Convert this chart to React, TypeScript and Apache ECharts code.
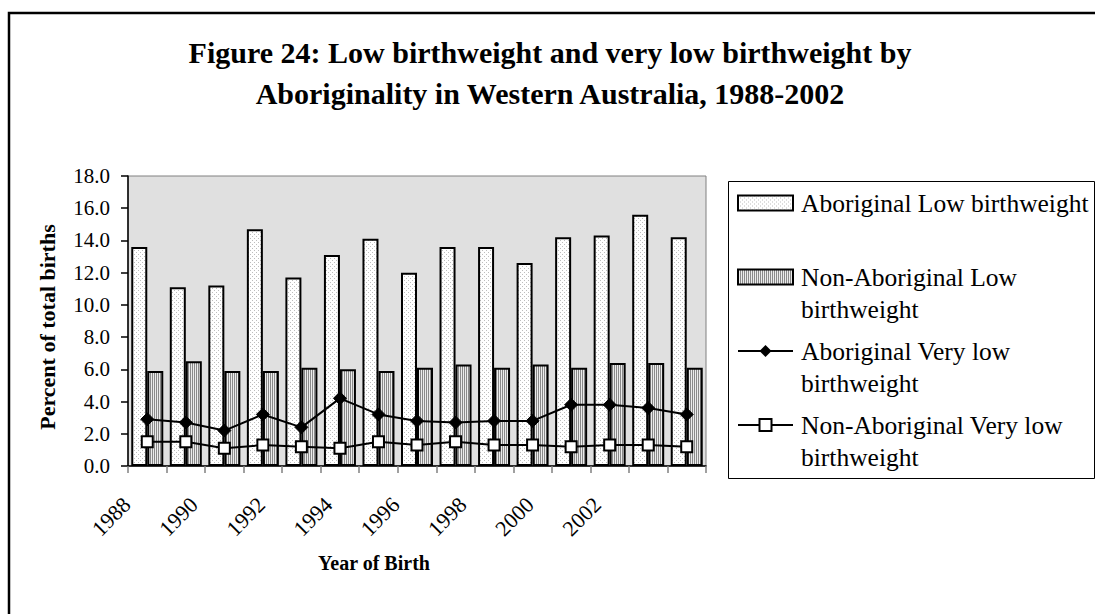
import React, { useEffect, useRef } from "react";
import * as echarts from "echarts";

const years = ["1988", "1989", "1990", "1991", "1992", "1993", "1994", "1995", "1996", "1997", "1998", "1999", "2000", "2001", "2002"];
const aboriginalLow = [13.6, 11.1, 11.2, 14.7, 11.7, 13.1, 14.1, 12.0, 13.6, 13.6, 12.6, 14.2, 14.3, 15.6, 14.2];
const nonAboriginalLow = [5.9, 6.5, 5.9, 5.9, 6.1, 6.0, 5.9, 6.1, 6.3, 6.1, 6.3, 6.1, 6.4, 6.4, 6.1];
const aboriginalVeryLow = [2.9, 2.7, 2.2, 3.2, 2.4, 4.2, 3.2, 2.8, 2.7, 2.8, 2.8, 3.8, 3.8, 3.6, 3.2];
const nonAboriginalVeryLow = [1.5, 1.5, 1.1, 1.3, 1.2, 1.1, 1.5, 1.3, 1.5, 1.3, 1.3, 1.2, 1.3, 1.3, 1.2];

const seriesNames = [
  "Aboriginal Low birthweight",
  "Non-Aboriginal Low birthweight",
  "Aboriginal Very low birthweight",
  "Non-Aboriginal Very low birthweight",
];
const legendLines = [
  ["Aboriginal Low birthweight", ""],
  ["Non-Aboriginal Low", "birthweight"],
  ["Aboriginal Very low", "birthweight"],
  ["Non-Aboriginal Very low", "birthweight"],
];
const titleText = "Figure 24: Low birthweight and very low birthweight by\nAboriginality in Western Australia, 1988-2002";
const yAxisName = "Percent of total births";
const xAxisName = "Year of Birth";

const FONT = "'Liberation Serif', 'Times New Roman', serif";

function makeDots(): HTMLCanvasElement {
  const c = document.createElement("canvas");
  c.width = 4;
  c.height = 4;
  const g = c.getContext("2d")!;
  g.fillStyle = "#ffffff";
  g.fillRect(0, 0, 4, 4);
  g.fillStyle = "#bdbdbd";
  g.fillRect(0, 0, 1, 1);
  g.fillRect(2, 2, 1, 1);
  return c;
}

function makeStripes(): HTMLCanvasElement {
  const c = document.createElement("canvas");
  c.width = 2;
  c.height = 2;
  const g = c.getContext("2d")!;
  g.fillStyle = "#ebebeb";
  g.fillRect(0, 0, 2, 2);
  g.fillStyle = "#8a8a8a";
  g.fillRect(0, 0, 1, 2);
  return c;
}

export default function App() {
  const ref = useRef<HTMLDivElement>(null);

  useEffect(() => {
    if (!ref.current) return;
    const chart = echarts.init(ref.current, undefined, { renderer: "svg" });
    const dots = makeDots();
    const stripes = makeStripes();

    const option: any = {
      animation: false,
      backgroundColor: "#ffffff",
      title: {
        text: titleText,
        left: 550,
        top: 32,
        padding: 0,
        textAlign: "center",
        textStyle: {
          fontFamily: FONT,
          fontSize: 30,
          fontWeight: "bold",
          color: "#000",
          lineHeight: 41,
        },
      },
      graphic: [
        {
          type: "rect",
          silent: true,
          shape: { x: 9, y: 13, width: 1100, height: 700 },
          style: { fill: "none", stroke: "#000", lineWidth: 2.5 },
        },
        {
          type: "rect",
          silent: true,
          shape: { x: 728.5, y: 181.5, width: 366, height: 297 },
          style: { fill: "none", stroke: "#000", lineWidth: 1 },
        },
      ],
      legend: {
        orient: "vertical",
        left: 737,
        top: 155,
        padding: 0,
        itemGap: -22,
        itemWidth: 55,
        itemHeight: 15,
        data: [
          { name: seriesNames[0], icon: "rect" },
          { name: seriesNames[1], icon: "rect" },
          { name: seriesNames[2] },
          { name: seriesNames[3] },
        ],
        formatter: (name: string) => {
          const l = legendLines[seriesNames.indexOf(name)];
          return "\n" + l[0] + "\n" + l[1];
        },
        textStyle: {
          fontFamily: FONT,
          fontSize: 25.5,
          color: "#000",
          lineHeight: 32,
          padding: [0, 0, 0, 3],
        },
      },
      grid: [
        {
          left: 128,
          top: 176,
          width: 578,
          height: 290,
          show: true,
          backgroundColor: "#e0e0e0",
          borderColor: "#808080",
          borderWidth: 1,
        },
        {
          left: 110,
          top: 176,
          width: 504,
          height: 290,
          show: false,
        },
      ],
      xAxis: [
        {
          type: "category",
          gridIndex: 0,
          data: years,
          axisLine: { show: true, lineStyle: { color: "#000", width: 1.5 } },
          axisTick: { show: true, inside: false, length: 7, lineStyle: { color: "#808080", width: 1.5 } },
          axisLabel: { show: false },
          splitLine: { show: false },
        },
        {
          type: "category",
          gridIndex: 1,
          data: years,
          axisLine: { show: false },
          axisTick: { show: false },
          splitLine: { show: false },
          axisLabel: {
            show: true,
            interval: 1,
            rotate: 45,
            margin: 35,
            fontFamily: FONT,
            fontSize: 22,
            color: "#000",
          },
          name: xAxisName,
          nameLocation: "middle",
          nameGap: 87,
          nameTextStyle: {
            fontFamily: FONT,
            fontSize: 20,
            fontWeight: "bold",
            color: "#000",
            padding: [0, 0, 0, 24],
          },
        },
      ],
      yAxis: [
        {
          type: "value",
          gridIndex: 0,
          min: 0,
          max: 18,
          interval: 2,
          axisLine: { show: true, lineStyle: { color: "#000", width: 1.5 } },
          axisTick: { show: true, inside: false, length: 7, lineStyle: { color: "#000", width: 1.5 } },
          splitLine: { show: false },
          axisLabel: {
            margin: 18,
            fontFamily: FONT,
            fontSize: 21,
            color: "#000",
            formatter: (v: number) => v.toFixed(1),
          },
          name: yAxisName,
          nameLocation: "middle",
          nameRotate: 90,
          nameGap: 70,
          nameTextStyle: {
            fontFamily: FONT,
            fontSize: 22,
            fontWeight: "bold",
            color: "#000",
            padding: [0, 12, 0, 0],
          },
        },
        {
          type: "value",
          gridIndex: 1,
          show: false,
          min: 0,
          max: 18,
        },
      ],
      series: [
        {
          name: seriesNames[0],
          type: "bar",
          xAxisIndex: 0,
          yAxisIndex: 0,
          data: aboriginalLow,
          barWidth: 16,
          barGap: "0%",
          itemStyle: {
            color: { image: dots, repeat: "repeat", imageWidth: 4, imageHeight: 4 },
            borderColor: "#000",
            borderWidth: 2,
          },
        },
        {
          name: seriesNames[1],
          type: "bar",
          xAxisIndex: 0,
          yAxisIndex: 0,
          data: nonAboriginalLow,
          barWidth: 16,
          barGap: "0%",
          itemStyle: {
            color: { image: stripes, repeat: "repeat", imageWidth: 2, imageHeight: 2 },
            borderColor: "#000",
            borderWidth: 2,
          },
        },
        {
          name: seriesNames[2],
          type: "line",
          xAxisIndex: 0,
          yAxisIndex: 0,
          data: aboriginalVeryLow,
          symbol: "diamond",
          symbolSize: 13,
          showAllSymbol: true,
          itemStyle: { color: "#000", borderColor: "#000" },
          lineStyle: { color: "#000", width: 2 },
        },
        {
          name: seriesNames[3],
          type: "line",
          xAxisIndex: 0,
          yAxisIndex: 0,
          data: nonAboriginalVeryLow,
          symbol: "rect",
          symbolSize: 11,
          showAllSymbol: true,
          itemStyle: { color: "#fff", borderColor: "#000", borderWidth: 2 },
          lineStyle: { color: "#000", width: 2 },
        },
      ],
    };

    chart.setOption(option);
    return () => chart.dispose();
  }, []);

  return (
    <div
      ref={ref}
      style={{ position: "absolute", left: 0, top: 0, width: 1095, height: 614 }}
    />
  );
}
